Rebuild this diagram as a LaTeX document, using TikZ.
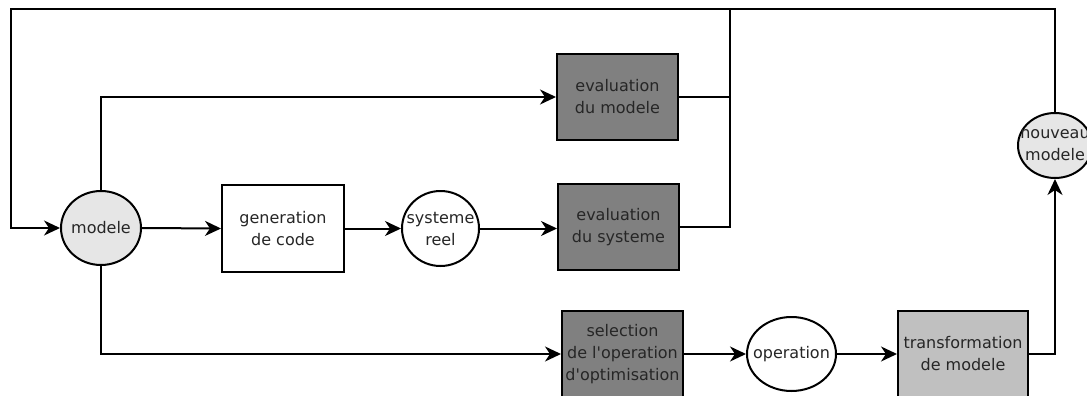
\documentclass[tikz,border=0pt]{standalone}
\usepackage{fontspec}
\setmainfont{DejaVu Sans}
\usetikzlibrary{shapes.geometric,arrows.meta}
\definecolor{txt}{HTML}{262626}
\definecolor{dark}{HTML}{808080}
\definecolor{light}{HTML}{C0C0C0}
\definecolor{pale}{HTML}{E6E6E6}
% a line of text that takes no width, so the shape keeps its own size
\newcommand{\zl}[1]{\makebox[0pt]{#1}}
\begin{document}
\begin{tikzpicture}[x=1pt,y=-1pt,
  line width=2pt,
  every node/.style={font=\fontsize{16}{22}\selectfont, text=txt, align=center, inner sep=0pt},
  blk/.style={draw, rectangle, minimum width=121pt, minimum height=86pt},
  oval/.style={draw, ellipse},
  arr/.style={-{Stealth[length=16pt,width=15pt,inset=5pt]}},
  wire/.style={line join=miter}
]
\useasboundingbox (0,0) rectangle (1087,396);

% nodes
\node[oval, fill=pale, minimum width=80pt, minimum height=74pt] (mod) at (101,228) {\zl{modele}};
\node[blk, fill=white, minimum width=122pt, minimum height=87pt] (gen) at (283,228.5) {\zl{generation}\\\zl{de code}};
\node[oval, fill=white, minimum width=77pt, minimum height=75pt] (sys) at (440.5,228.5) {\zl{systeme}\\\zl{reel}};
\node[blk, fill=dark] (evm) at (617.5,97) {\zl{evaluation}\\\zl{du modele}};
\node[blk, fill=dark] (evs) at (618.5,227) {\zl{evaluation}\\\zl{du systeme}};
\node[blk, fill=dark] (sel) at (622.5,354) {\zl{selection}\\\zl{de l\textquotesingle operation}\\\zl{d\textquotesingle optimisation}};
\node[oval, fill=white, minimum width=89pt, minimum height=74pt] (op) at (791.5,354) {\zl{operation}};
\node[blk, fill=light, minimum width=130pt] (tr) at (963,354) {\zl{transformation}\\\zl{de modele}};
\node[oval, fill=pale, minimum width=74pt, minimum height=65pt] (nm) at (1055,145.5) {\zl{nouveau}\\\zl{modele}};

% junction points of the feedback wiring
\coordinate (tl) at (11,9);
\coordinate (tr0) at (1055,9);
\coordinate (jt) at (730,9);
\coordinate (jm) at (730,97);
\coordinate (js) at (730,227);

% connectors
\draw[arr, wire] (nm.north) -- (tr0) -- (tl) |- (mod.west);
\draw[arr, wire] (mod.north) |- (evm.west);
\draw[arr] (mod.east) -- (gen.west);
\draw[arr] (gen.east) -- (sys.west);
\draw[arr] (sys.east) -- (sys.east -| evs.west);
\draw[wire] (evm.east) -- (jm);
\draw[wire] (evs.east) -- (js) -- (jt);
\draw[arr, wire] (mod.south) |- (sel.west);
\draw[arr] (sel.east) -- (op.west);
\draw[arr] (op.east) -- (tr.west);
\draw[arr, wire] (tr.east) -| (nm.south);
\end{tikzpicture}
\end{document}
